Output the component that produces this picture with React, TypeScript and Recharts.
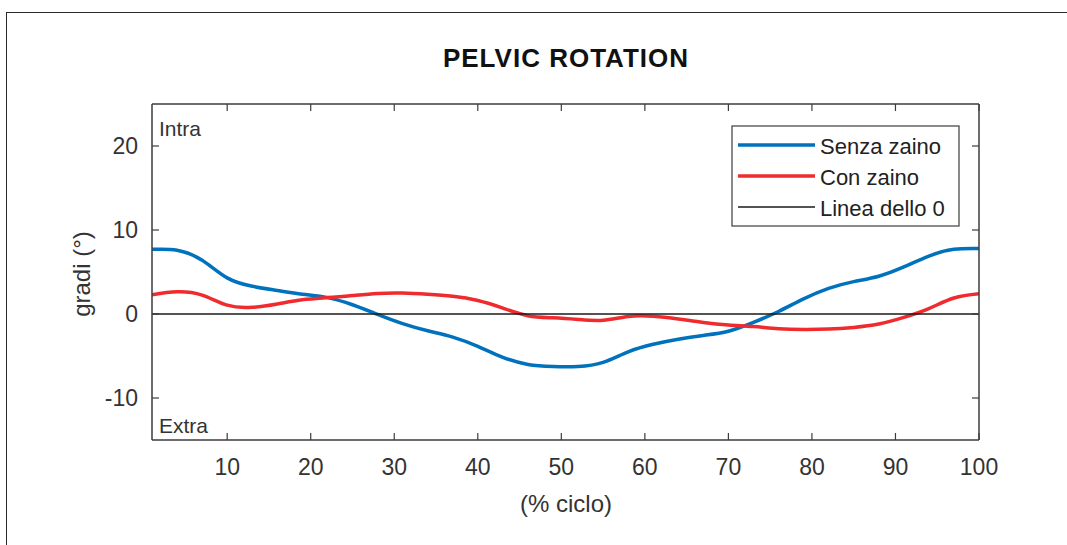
import { LineChart, Line, XAxis, YAxis, ReferenceLine } from 'recharts'

// % del ciclo del passo
const cicloPct = [1, 4, 7, 10, 13, 16, 19, 22, 25, 28, 31, 34, 37, 40, 43, 46, 49, 52, 55, 58, 61, 64, 67, 70, 73, 76, 79, 82, 85, 88, 91, 94, 97, 100]

// rotazione pelvica (gradi)
const senzaZaino = [7.7, 7.6, 6.4, 4.3, 3.3, 2.8, 2.35, 1.95, 1.1, -0.05, -1.15, -2.0, -2.75, -3.85, -5.15, -6.0, -6.25, -6.25, -5.75, -4.5, -3.6, -3.0, -2.55, -2.05, -1.0, 0.3, 1.8, 3.05, 3.85, 4.5, 5.6, 6.9, 7.7, 7.8]
const conZaino = [2.3, 2.65, 2.25, 1.05, 0.8, 1.2, 1.7, 1.95, 2.2, 2.45, 2.5, 2.35, 2.1, 1.6, 0.7, -0.2, -0.45, -0.65, -0.75, -0.3, -0.28, -0.6, -1.0, -1.3, -1.5, -1.75, -1.85, -1.8, -1.6, -1.2, -0.4, 0.65, 1.9, 2.4]

const xTicks = [10, 20, 30, 40, 50, 60, 70, 80, 90, 100]
const yTicks = [-10, 0, 10, 20]
const nomiSerie = ['Senza zaino', 'Con zaino', 'Linea dello 0']

const BLUE = '#0072BD'
const RED = '#EF2B2D'
const AXIS = '#3c3c3c'
const TEXT = '#333333'
const FONT = '"Liberation Sans", Arial, Helvetica, sans-serif'

const data = cicloPct.map((x, i) => ({ x, senza: senzaZaino[i], con: conZaino[i] }))

const noTick = () => <g />

export default function App() {
  const legendColors = [BLUE, RED, '#1a1a1a']
  const legendWidths = [3.5, 3.5, 1.3]

  return (
    <div
      style={{
        position: 'absolute',
        left: 0,
        top: 0,
        width: 1067,
        height: 545,
        overflow: 'hidden',
        background: '#fff',
        fontFamily: FONT,
      }}
    >
      <div
        style={{
          position: 'absolute',
          left: 6,
          top: 12,
          width: 1200,
          height: 700,
          border: '1.5px solid #2a2a2a',
        }}
      />
      <LineChart
        width={1067}
        height={545}
        data={data}
        margin={{ top: 104, right: 88, bottom: 65, left: 92 }}
        style={{ position: 'absolute', left: 0, top: 0 }}
      >
        <XAxis
          dataKey="x"
          type="number"
          domain={[1, 100]}
          ticks={xTicks}
          allowDataOverflow
          height={40}
          tickSize={-7}
          tickMargin={26}
          axisLine={{ stroke: AXIS, strokeWidth: 1.5 }}
          tickLine={{ stroke: AXIS, strokeWidth: 1.2 }}
          tick={{ fill: TEXT, fontSize: 23, fontFamily: FONT }}
        />
        <XAxis
          xAxisId="top"
          dataKey="x"
          type="number"
          orientation="top"
          mirror
          domain={[1, 100]}
          ticks={xTicks}
          allowDataOverflow
          height={1}
          tickSize={7}
          axisLine={{ stroke: AXIS, strokeWidth: 1.5 }}
          tickLine={{ stroke: AXIS, strokeWidth: 1.2 }}
          tick={noTick}
        />
        <YAxis
          type="number"
          domain={[-15, 25]}
          ticks={yTicks}
          allowDataOverflow
          width={60}
          tickSize={-7}
          tickMargin={21}
          axisLine={{ stroke: AXIS, strokeWidth: 1.5 }}
          tickLine={{ stroke: AXIS, strokeWidth: 1.2 }}
          tick={{ fill: TEXT, fontSize: 23, fontFamily: FONT }}
        />
        <YAxis
          yAxisId="right"
          type="number"
          orientation="right"
          mirror
          domain={[-15, 25]}
          ticks={yTicks}
          allowDataOverflow
          width={1}
          tickSize={7}
          axisLine={{ stroke: AXIS, strokeWidth: 1.5 }}
          tickLine={{ stroke: AXIS, strokeWidth: 1.2 }}
          tick={noTick}
        />
        <Line
          dataKey="senza"
          name={nomiSerie[0]}
          type="natural"
          stroke={BLUE}
          strokeWidth={3.5}
          dot={false}
          isAnimationActive={false}
        />
        <Line
          dataKey="con"
          name={nomiSerie[1]}
          type="natural"
          stroke={RED}
          strokeWidth={3.5}
          dot={false}
          isAnimationActive={false}
        />
        <ReferenceLine y={0} stroke="#1a1a1a" strokeWidth={1.5} ifOverflow="extendDomain" />

        <text x={566} y={67} textAnchor="middle" fontSize={26} fontWeight="bold" letterSpacing={1} fill="#111" fontFamily={FONT}>
          PELVIC ROTATION
        </text>
        <text x={159} y={136} fontSize={21} fill={TEXT} fontFamily={FONT}>Intra</text>
        <text x={159} y={433} fontSize={21} fill={TEXT} fontFamily={FONT}>Extra</text>
        <text x={566} y={512} textAnchor="middle" fontSize={24} fill={TEXT} fontFamily={FONT}>(% ciclo)</text>
        <text
          x={90}
          y={274}
          textAnchor="middle"
          fontSize={24}
          fill={TEXT}
          fontFamily={FONT}
          transform="rotate(-90, 90, 274)"
        >
          gradi (°)
        </text>

        <g transform="translate(732, 126)">
          <rect x={0} y={0} width={227} height={100} fill="#fff" stroke={AXIS} strokeWidth={1.2} />
          {nomiSerie.map((nome, i) => (
            <g key={nome}>
              <line x1={6} x2={83} y1={19 + i * 31} y2={19 + i * 31} stroke={legendColors[i]} strokeWidth={legendWidths[i]} />
              <text x={88} y={28 + i * 31} fontSize={22} fill="#222" fontFamily={FONT}>{nome}</text>
            </g>
          ))}
        </g>
      </LineChart>
    </div>
  )
}
